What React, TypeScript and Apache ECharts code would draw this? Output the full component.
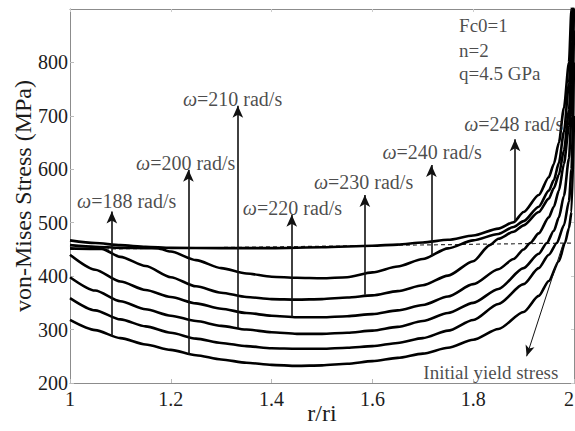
import React, { useEffect, useRef } from "react";
import * as echarts from "echarts";

// ---- data ----
const omegaLabels = ["188", "200", "210", "220", "230", "240", "248"];

const stress188: [number, number][] = [
  [1, 318], [1.05, 299], [1.1, 284], [1.15, 272], [1.2, 262], [1.25, 252], [1.3, 244], [1.35, 238],
  [1.4, 234], [1.45, 232], [1.5, 233], [1.55, 236], [1.6, 241], [1.65, 247], [1.7, 255], [1.75, 266],
  [1.8, 281], [1.85, 301], [1.9, 333], [1.93, 363], [1.95, 391], [1.97, 428], [1.982, 462], [1.99, 490],
  [1.995, 520], [2.0, 700],
];
const stress200: [number, number][] = [
  [1, 359], [1.05, 336], [1.1, 319], [1.15, 306], [1.2, 294], [1.25, 283], [1.3, 275], [1.35, 269],
  [1.4, 265], [1.45, 264], [1.5, 264], [1.55, 266], [1.6, 269], [1.65, 275], [1.7, 284], [1.75, 298],
  [1.8, 318], [1.85, 348], [1.9, 385], [1.93, 415], [1.95, 440], [1.966, 462], [1.98, 495], [1.99, 540],
  [1.995, 600], [2.0, 800],
];
const stress210: [number, number][] = [
  [1, 398], [1.05, 373], [1.1, 353], [1.15, 338], [1.2, 326], [1.25, 316], [1.3, 307], [1.35, 300],
  [1.4, 295], [1.45, 292], [1.5, 292], [1.55, 294], [1.6, 298], [1.65, 305], [1.7, 316], [1.75, 331],
  [1.8, 350], [1.85, 376], [1.9, 415], [1.93, 442], [1.946, 462], [1.96, 485], [1.97, 510], [1.98, 550],
  [1.99, 620], [1.995, 700], [2.0, 860],
];
const stress220: [number, number][] = [
  [1, 440], [1.05, 412], [1.1, 390], [1.15, 374], [1.2, 361], [1.25, 349], [1.3, 339], [1.35, 331],
  [1.4, 326], [1.45, 323], [1.5, 323], [1.55, 325], [1.6, 329], [1.65, 336], [1.7, 346], [1.75, 362],
  [1.8, 385], [1.85, 413], [1.88, 432], [1.9, 450], [1.913, 462], [1.93, 480], [1.95, 510], [1.96, 530],
  [1.97, 560], [1.98, 610], [1.99, 680], [1.995, 760], [2.0, 900],
];
const stress230: [number, number][] = [
  [1, 452], [1.063, 451], [1.1, 436], [1.15, 419], [1.2, 398], [1.25, 381], [1.3, 369], [1.35, 361],
  [1.4, 357], [1.45, 356], [1.5, 357], [1.55, 360], [1.6, 364], [1.65, 372], [1.7, 383], [1.75, 401],
  [1.8, 428], [1.833, 458], [1.85, 470], [1.88, 483], [1.9, 495], [1.93, 520], [1.95, 545], [1.96, 565],
  [1.97, 590], [1.98, 635], [1.99, 710], [1.995, 790], [2.0, 950],
];
const stress240: [number, number][] = [
  [1, 458], [1.05, 455], [1.1, 453], [1.15, 452.5], [1.175, 452], [1.2, 446], [1.25, 430], [1.3, 415],
  [1.35, 405], [1.4, 399], [1.45, 397], [1.5, 396], [1.55, 398], [1.6, 407], [1.65, 418], [1.7, 432],
  [1.75, 452], [1.8, 467], [1.85, 479], [1.88, 492], [1.9, 503], [1.93, 530], [1.95, 560], [1.96, 580],
  [1.97, 612], [1.98, 670], [1.99, 760], [1.995, 840], [2.0, 1000],
];
const stress248: [number, number][] = [
  [1, 467], [1.05, 462], [1.1, 458], [1.15, 455], [1.2, 453], [1.3, 452.5], [1.4, 452.5], [1.5, 454],
  [1.6, 457], [1.65, 459], [1.7, 463], [1.75, 468], [1.8, 476], [1.85, 489], [1.88, 501], [1.9, 520],
  [1.93, 552], [1.95, 585], [1.96, 610], [1.97, 650], [1.98, 715], [1.99, 800], [1.995, 900], [2.0, 1050],
];
const curves = [stress188, stress200, stress210, stress220, stress230, stress240, stress248];

const yieldLine: [number, number][] = [[1, 450], [2, 462]];

// arrows: x position, start (curve) stress, tip stress
const arrowR = [1.083, 1.235, 1.333, 1.44, 1.585, 1.717, 1.883];
const arrowFrom = [288, 253, 303, 323, 365, 437, 502];
const arrowTo = [521, 599, 719, 515, 552, 608, 656];
// label anchors (left-middle of text) in data units
const labelR = [1.014, 1.131, 1.224, 1.343, 1.484, 1.62, 1.782];
const labelV = [540, 612, 732, 528, 577, 633, 685];

const paramTexts = ["Fc0=1", "n=2", "q=4.5 GPa"];
const paramR = [1.772, 1.772, 1.772];
const paramV = [869, 823, 780];

const yieldText = "Initial yield stress";
const yieldTextPos: [number, number] = [1.701, 219];
const yieldArrowFrom: [number, number] = [1.979, 462];
const yieldArrowTo: [number, number] = [1.906, 250];

const xTicks = { min: 1, max: 2, interval: 0.2 };
const yTicks = { min: 200, max: 900, interval: 100 };

const FONT = "'Liberation Serif', 'Times New Roman', serif";

export default function App() {
  const ref = useRef<HTMLDivElement>(null);
  useEffect(() => {
    if (!ref.current) return;
    const chart = echarts.init(ref.current, undefined, { renderer: "svg" });
    const axisColor = "#8c8c8c";
    const textColor = "#1c1c1c";

    const curveSeries = curves.map((d, i) => ({
      type: "line",
      name: "w" + omegaLabels[i],
      data: d,
      symbol: "none",
      smooth: 0.25,
      smoothMonotone: "x",
      clip: true,
      lineStyle: { color: "#000", width: 2.6 },
      silent: true,
      z: 3,
    }));

    const arrowLines = arrowR.map((r, i) => [
      { coord: [r, arrowFrom[i]], symbol: "none" },
      { coord: [r, arrowTo[i]], symbol: "arrow" },
    ]);

    const option: any = {
      animation: false,
      backgroundColor: "#fff",
      textStyle: { fontFamily: FONT },
      grid: { left: 70, right: 1, top: 9, bottom: 48, containLabel: false, outerBoundsMode: "none" },
      xAxis: [
        {
          type: "value",
          ...xTicks,
          name: "r/ri",
          nameLocation: "middle",
          nameGap: 18,
          nameMoveOverlap: false,
          nameTextStyle: { fontSize: 24, color: textColor, fontFamily: FONT },
          axisLine: { show: true, lineStyle: { color: axisColor, width: 1 } },
          axisTick: { show: true, inside: true, length: 4, lineStyle: { color: "#bbb" } },
          axisLabel: { fontSize: 20, color: textColor, fontFamily: FONT, margin: 6, alignMaxLabel: "right" },
          splitLine: { show: false },
        },
        {
          type: "value",
          position: "top",
          ...xTicks,
          axisLine: { show: true, lineStyle: { color: axisColor, width: 1 } },
          axisTick: { show: true, inside: true, length: 3, lineStyle: { color: "#ccc" } },
          axisLabel: { show: false },
          splitLine: { show: false },
        },
      ],
      yAxis: [
        {
          type: "value",
          ...yTicks,
          name: "von-Mises Stress (MPa)",
          nameLocation: "middle",
          nameGap: 35,
          nameMoveOverlap: false,
          nameTextStyle: { fontSize: 24, color: textColor, fontFamily: FONT },
          axisLine: { show: true, lineStyle: { color: axisColor, width: 1 } },
          axisTick: { show: true, inside: true, length: 4, lineStyle: { color: "#bbb" } },
          axisLabel: { fontSize: 20, color: textColor, fontFamily: FONT, margin: 2, showMaxLabel: false },
          splitLine: { show: false },
        },
        {
          type: "value",
          position: "right",
          ...yTicks,
          axisLine: { show: true, lineStyle: { color: axisColor, width: 1 } },
          axisTick: { show: true, inside: true, length: 3, lineStyle: { color: "#ccc" } },
          axisLabel: { show: false },
          splitLine: { show: false },
        },
      ],
      series: [
        {
          type: "line",
          name: "yield",
          data: yieldLine,
          symbol: "none",
          silent: true,
          lineStyle: { color: "#333", width: 1.2, type: [4, 3] },
          z: 2,
        },
        ...curveSeries,
        {
          type: "scatter",
          name: "arrows",
          data: [],
          silent: true,
          markLine: {
            silent: true,
            symbol: ["none", "arrow"],
            symbolSize: [8, 12],
            label: { show: false },
            lineStyle: { color: "#111", width: 1.6, type: "solid" },
            data: arrowLines,
          },
          z: 4,
        },
        {
          type: "scatter",
          name: "yieldArrow",
          data: [],
          silent: true,
          markLine: {
            silent: true,
            symbol: ["none", "arrow"],
            symbolSize: [7, 11],
            label: { show: false },
            lineStyle: { color: "#111", width: 1, type: "solid" },
            data: [[{ coord: yieldArrowFrom }, { coord: yieldArrowTo }]],
          },
          z: 4,
        },
        {
          type: "scatter",
          name: "omegaLabels",
          symbolSize: 0,
          silent: true,
          data: labelR.map((r, i) => ({ value: [r, labelV[i]], name: omegaLabels[i] })),
          label: {
            show: true,
            position: "right",
            distance: 0,
            fontSize: 20,
            color: textColor,
            fontFamily: FONT,
            formatter: (p: any) => "{w|ω}=" + p.name + " rad/s",
            rich: { w: { fontStyle: "italic", fontSize: 20, fontFamily: FONT, color: textColor } },
          },
          z: 5,
        },
        {
          type: "scatter",
          name: "params",
          symbolSize: 0,
          silent: true,
          data: paramR.map((r, i) => ({ value: [r, paramV[i]], name: paramTexts[i] })),
          label: {
            show: true,
            position: "right",
            distance: 0,
            fontSize: 19,
            color: textColor,
            fontFamily: FONT,
            formatter: (p: any) => p.name,
          },
          z: 5,
        },
        {
          type: "scatter",
          name: "yieldText",
          symbolSize: 0,
          silent: true,
          data: [{ value: yieldTextPos, name: yieldText }],
          label: {
            show: true,
            position: "right",
            distance: 0,
            fontSize: 19,
            color: textColor,
            fontFamily: FONT,
            formatter: (p: any) => p.name,
          },
          z: 5,
        },
      ],
    };
    chart.setOption(option);
    return () => chart.dispose();
  }, []);
  return (
    <div
      ref={ref}
      style={{ position: "fixed", left: 0, top: 0, width: 575, height: 431, background: "#fff" }}
    />
  );
}
